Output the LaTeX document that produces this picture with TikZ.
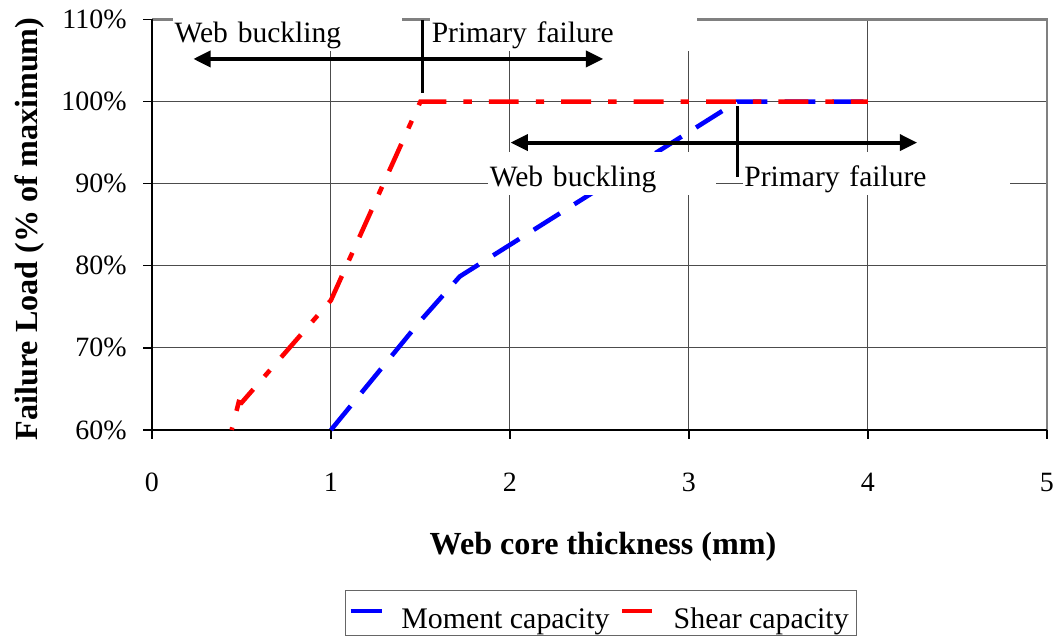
\documentclass[tikz,border=0pt]{standalone}
\usepackage{fontspec}
\setmainfont{Liberation Serif}
\usepackage{tikz}
\usetikzlibrary{arrows.meta}
\definecolor{momblue}{RGB}{0,0,255}
\definecolor{shearred}{RGB}{255,0,0}

\begin{document}
\begin{tikzpicture}[x=3.58cm,y=0.1642cm,
    gridline/.style={black!70,line width=0.6pt},
    frameline/.style={gray,line width=1.2pt},
    axisline/.style={black,line width=0.8pt},
    ticklabel/.style={font=\fontsize{15.9}{18}\selectfont,inner sep=0pt},
    axistitle/.style={font=\fontsize{18.3}{21}\selectfont\bfseries,inner sep=0pt},
    labelbox/.style={fill=white,anchor=north west,inner ysep=0pt,inner xsep=0.03cm,
        align=left,text height=0.68cm,text depth=0.18cm,
        font=\fontsize{16.8}{20}\selectfont},
    annarrow/.style={line width=2.2pt,{Triangle[length=9.9pt,width=9.1pt]}-{Triangle[length=9.9pt,width=9.1pt]}},
    marker/.style={line width=1.8pt},
    moment/.style={momblue,line width=2.6pt,dash pattern=on 17.6pt off 9.7pt},
    shear/.style={shearred,line width=2.6pt,dash pattern=on 17pt off 9.7pt on 4.8pt off 9.7pt,dash phase=30pt}]
    \useasboundingbox (-0.849,34.54) rectangle (5.073,112.37);

    % grid
    \foreach \p in {70,80,90,100}
        \draw[gridline] (0,\p) -- (5,\p);
    \foreach \t in {1,2,3,4}
        \draw[gridline] (\t,60) -- (\t,110);
    \draw[frameline] (0,110) -- (5,110) -- (5,60);

    % axes and ticks
    \draw[axisline] (0,110) -- (0,60) -- (5,60);
    \foreach \p in {60,70,...,110} {
        \draw[axisline] (-0.05,\p) -- (0,\p);
        \node[ticklabel,anchor=east] (ylab\p) at (-0.14,\p) {\p\%};
    }
    \foreach \t in {0,...,5} {
        \draw[axisline] (\t,60) -- (\t,58.9);
        \node[ticklabel] (xlab\t) at (\t,53.6) {\t};
    }
    \node[axistitle,anchor=base] (xtitle) at (2.52,44.77) {Web core thickness (mm)};
    \node[axistitle,anchor=base,rotate=90] (ytitle) at (-0.637,84.48) {Failure Load (\% of maximum)};

    % data
    \draw[moment] (1,60) -- (1.5,73.3) -- (1.72,78.7) -- (3.27,100) -- (4,100);
    \draw[shear] (0.445,60) -- (0.485,63.4) -- (0.5,63.3) -- (1,75.8) -- (1.5,100) -- (4,100);

    % annotations
    \node[labelbox,text width=4.52cm] (bucklingA) at (0.116,111.40) {Web buckling};
    \node[labelbox,text width=5.28cm] (failureA) at (1.553,111.40) {Primary failure};
    \node[labelbox,text width=4.50cm] (bucklingB) at (1.877,93.86) {Web buckling};
    \node[labelbox,text width=5.28cm] (failureB) at (3.30,93.86) {Primary failure};

    \coordinate (arrAl) at (0.231,105.19);
    \coordinate (arrAr) at (2.521,105.19);
    \coordinate (markAt) at (1.512,109.94);
    \coordinate (markAb) at (1.512,101.0);
    \draw[annarrow] (arrAl) -- (arrAr);
    \draw[marker] (markAt) -- (markAb);

    \coordinate (arrBl) at (2.003,95.0);
    \coordinate (arrBr) at (4.275,95.0);
    \coordinate (markBt) at (3.27,99.46);
    \coordinate (markBb) at (3.27,90.85);
    \draw[annarrow] (arrBl) -- (arrBr);
    \draw[marker] (markBt) -- (markBb);

    % legend
    \node[draw=black!60,line width=0.8pt,anchor=north west,minimum width=10.22cm,minimum height=0.9cm,inner sep=0pt] (legend) at (1.078,40.51) {};
    \coordinate (keyMl) at (1.110,38.0);
    \coordinate (keyMr) at (1.283,38.0);
    \coordinate (keySl) at (2.628,38.0);
    \coordinate (keySr) at (2.796,38.0);
    \draw[momblue,line width=2.3pt] (keyMl) -- (keyMr);
    \draw[shearred,line width=2.3pt] (keySl) -- (keySr);
    \node[font=\fontsize{17}{20}\selectfont,anchor=base west,inner sep=0pt] (momtext) at (1.391,35.85) {Moment capacity};
    \node[font=\fontsize{17}{20}\selectfont,anchor=base west,inner sep=0pt] (sheartext) at (2.913,35.85) {Shear capacity};
\end{tikzpicture}
\end{document}
